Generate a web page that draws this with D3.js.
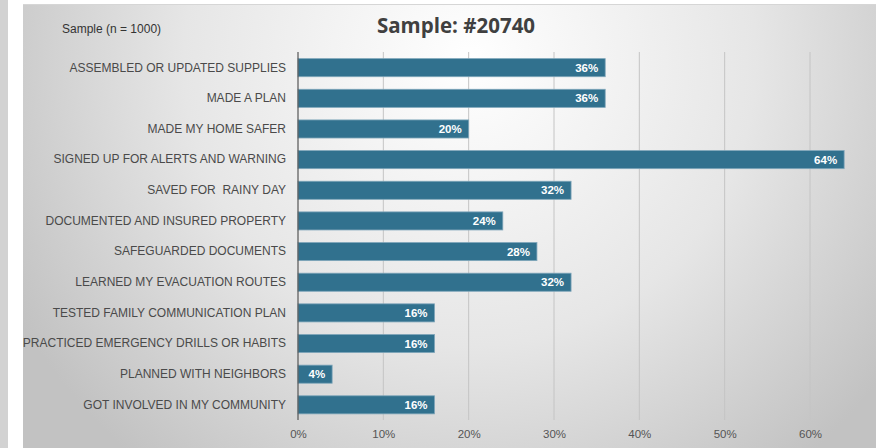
<!DOCTYPE html>
<html>
<head>
<meta charset="utf-8">
<script src="https://cdn.jsdelivr.net/npm/d3@7"></script>
<style>
  body { margin: 0; background: #fff; }
  svg { display: block; }
  text { font-family: "Liberation Sans", Arial, sans-serif; }
</style>
</head>
<body>
<div id="chart"></div>
<script>
// data
var categories = [
  "ASSEMBLED OR UPDATED SUPPLIES",
  "MADE A PLAN",
  "MADE MY HOME SAFER",
  "SIGNED UP FOR ALERTS AND WARNING",
  "SAVED FOR  RAINY DAY",
  "DOCUMENTED AND INSURED PROPERTY",
  "SAFEGUARDED DOCUMENTS",
  "LEARNED MY EVACUATION ROUTES",
  "TESTED FAMILY COMMUNICATION PLAN",
  "PRACTICED EMERGENCY DRILLS OR HABITS",
  "PLANNED WITH NEIGHBORS",
  "GOT INVOLVED IN MY COMMUNITY"
]
var values = [36, 36, 20, 64, 32, 24, 28, 32, 16, 16, 4, 16]
var tickValues = [0, 10, 20, 30, 40, 50, 60]

var svgWidth = 876
  , svgHeight = 448
  , barColor = "#31718e"

var svg = d3.select("#chart").append("svg")
    .attr("width", svgWidth)
    .attr("height", svgHeight)

// background panel gradient
var defs = svg.append("defs")
var grad = defs.append("radialGradient")
    .attr("id", "bg")
    .attr("gradientUnits", "userSpaceOnUse")
    .attr("cx", 470).attr("cy", 60).attr("r", 520)
grad.append("stop").attr("offset", "0%").attr("stop-color", "#ffffff")
grad.append("stop").attr("offset", "55%").attr("stop-color", "#e6e6e6")
grad.append("stop").attr("offset", "100%").attr("stop-color", "#c2c2c2")

// frame pieces
svg.append("rect").attr("x", 0).attr("y", 0).attr("width", 8).attr("height", svgHeight).attr("fill", "#d2d2d2")
svg.append("rect").attr("x", 23).attr("y", 4).attr("width", svgWidth - 23).attr("height", svgHeight - 4)
    .attr("fill", "url(#bg)")
svg.append("line").attr("x1", 23).attr("x2", svgWidth).attr("y1", 4.5).attr("y2", 4.5)
    .attr("stroke", "#d6d6d6")

// scales
var x = d3.scaleLinear().domain([0, 60]).range([298, 810])
var y = d3.scaleBand().domain(categories).range([52.5, 420]).paddingInner(0.41).paddingOuter(0.2)

// gridlines
svg.append("g")
  .selectAll("line")
  .data(tickValues.slice(1))
  .enter().append("line")
    .attr("x1", d => x(d)).attr("x2", d => x(d))
    .attr("y1", 52).attr("y2", 420)
    .attr("stroke", "#c4c4c4").attr("stroke-width", 1)

// x axis labels
var xAxis = d3.axisBottom(x).tickValues(tickValues).tickSize(0).tickPadding(0)
    .tickFormat(d => d + "%")
var gx = svg.append("g").attr("transform", "translate(0,430)").call(xAxis)
gx.select(".domain").remove()
gx.selectAll("text").attr("fill", "#555").style("font-size", "11.5px")

// bars
svg.append("g")
  .selectAll("rect")
  .data(values)
  .enter().append("rect")
    .attr("x", x(0))
    .attr("y", (d, i) => y(categories[i]))
    .attr("width", d => x(d) - x(0))
    .attr("height", y.bandwidth())
    .attr("fill", barColor)
    .attr("stroke", "#7fa6ba").attr("stroke-width", 0.8)

// value labels
svg.append("g")
  .selectAll("text")
  .data(values)
  .enter().append("text")
    .attr("x", d => x(d) - 7)
    .attr("y", (d, i) => y(categories[i]) + y.bandwidth() / 2)
    .attr("dy", "0.36em")
    .attr("text-anchor", "end")
    .attr("fill", "#fff")
    .style("font-size", "11.5px")
    .style("font-weight", "bold")
    .text(d => d + "%")

// category labels
var yAxis = d3.axisLeft(y).tickSize(0).tickPadding(12)
var gy = svg.append("g").attr("transform", "translate(" + x(0) + ",0)").call(yAxis)
gy.select(".domain").remove()
gy.selectAll("text")
    .attr("fill", "#4a4a4a")
    .style("font-size", "12px")
    .style("white-space", "pre")

// zero axis line
svg.append("line")
    .attr("x1", x(0)).attr("x2", x(0))
    .attr("y1", 52).attr("y2", 420)
    .attr("stroke", "#555").attr("stroke-width", 1.2)

// titles
svg.append("text")
    .attr("x", 456).attr("y", 33)
    .attr("text-anchor", "middle")
    .attr("fill", "#404040")
    .style("font-family", "'Open Sans', sans-serif")
    .style("font-size", "20.5px").style("font-weight", "bold")
    .text("Sample: #20740")

svg.append("text")
    .attr("x", 62).attr("y", 33)
    .attr("fill", "#333")
    .style("font-size", "12px")
    .text("Sample (n = 1000)")
</script>
</body>
</html>
